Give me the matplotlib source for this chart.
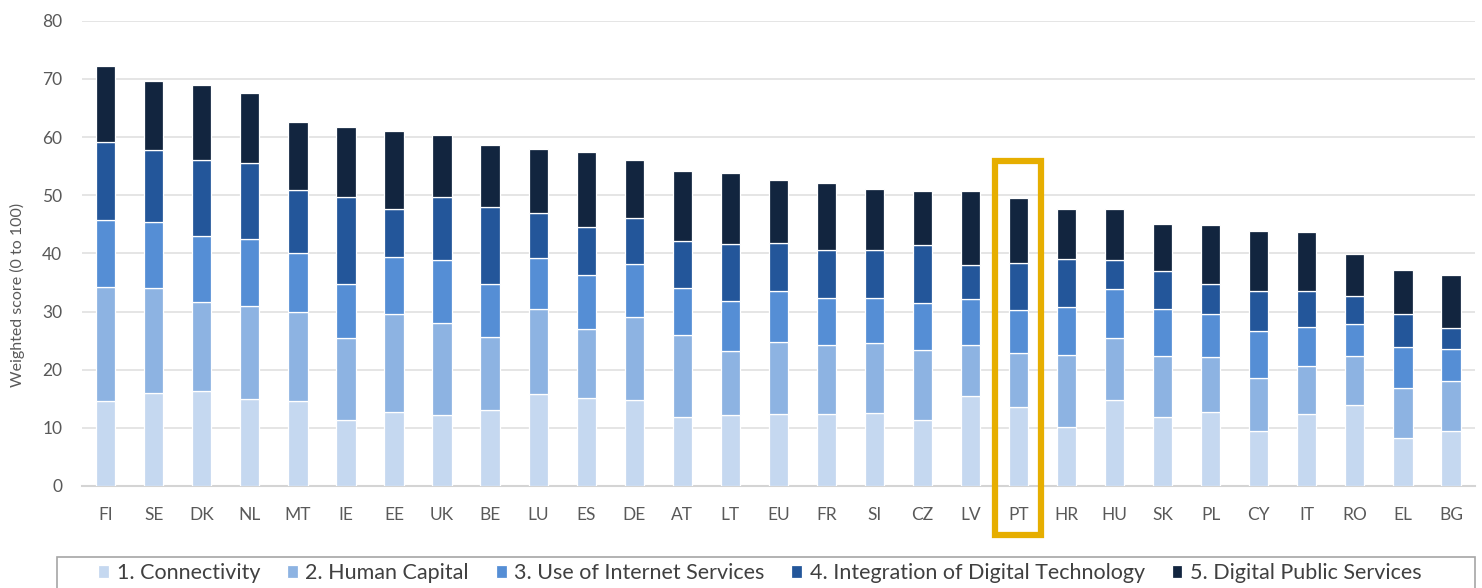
import matplotlib.pyplot as plt
from matplotlib.patches import Rectangle
import numpy as np

plt.rcParams['font.family'] = ['Lato', 'DejaVu Sans']

countries = ['FI', 'SE', 'DK', 'NL', 'MT', 'IE', 'EE', 'UK', 'BE', 'LU', 'ES', 'DE', 'AT', 'LT', 'EU',
             'FR', 'SI', 'CZ', 'LV', 'PT', 'HR', 'HU', 'SK', 'PL', 'CY', 'IT', 'RO', 'EL', 'BG']

connectivity = [14.7, 16.0, 16.4, 15.0, 14.6, 11.3, 12.8, 12.2, 13.0, 15.9, 15.2, 14.8, 11.9, 12.2, 12.4,
                12.4, 12.5, 11.3, 15.4, 13.5, 10.2, 14.8, 11.8, 12.8, 9.5, 12.4, 14.0, 8.2, 9.5]
human_capital = [19.6, 18.0, 15.2, 16.0, 15.4, 14.2, 16.7, 15.8, 12.6, 14.5, 11.8, 14.2, 14.1, 11.0, 12.4,
                 11.9, 12.1, 12.1, 8.8, 9.4, 12.3, 10.6, 10.5, 9.4, 9.0, 8.2, 8.3, 8.7, 8.6]
internet_use = [11.5, 11.4, 11.4, 11.4, 10.0, 9.3, 9.9, 10.9, 9.2, 8.8, 9.2, 9.2, 8.1, 8.6, 8.7,
                8.0, 7.7, 8.1, 8.0, 7.3, 8.3, 8.4, 8.1, 7.4, 8.2, 6.8, 5.5, 7.0, 5.4]
integration = [13.4, 12.3, 13.0, 13.1, 10.9, 14.9, 8.2, 10.8, 13.1, 7.7, 8.3, 7.9, 8.1, 9.8, 8.3,
               8.3, 8.3, 9.9, 5.8, 8.1, 8.3, 5.1, 6.5, 5.1, 6.8, 6.2, 4.9, 5.7, 3.6]
public_services = [13.0, 12.0, 13.0, 12.1, 11.7, 12.0, 13.4, 10.7, 10.7, 11.0, 13.0, 9.9, 12.0, 12.2, 10.8,
                   11.5, 10.5, 9.3, 12.7, 11.2, 8.5, 8.7, 8.2, 10.1, 10.3, 10.0, 7.2, 7.6, 9.2]

series = [connectivity, human_capital, internet_use, integration, public_services]
labels = ['1. Connectivity', '2. Human Capital', '3. Use of Internet Services',
          '4. Integration of Digital Technology', '5. Digital Public Services']
colors = ['#C5D8F0', '#8DB3E2', '#558ED5', '#23569A', '#12253F']
highlight = 'PT'

fig = plt.figure(figsize=(14.82, 5.88), dpi=100)
ax = fig.add_axes([81.7 / 1482, 1 - 486 / 588, (1475 - 81.7) / 1482, (486 - 20.7) / 588])

x = np.arange(len(countries))
bottom = np.zeros(len(countries))
for vals, lab, col in zip(series, labels, colors):
    ax.bar(x, vals, width=0.4, bottom=bottom, color=col, edgecolor='white', linewidth=0.9,
           label=lab, zorder=3)
    bottom += np.array(vals)

ax.set_xlim(-0.5, 28.5)
ax.set_ylim(0, 80)
ax.set_yticks(range(0, 81, 10))
ax.set_xticks(x)
ax.set_xticklabels(countries)
ax.grid(axis='y', color='#E3E3E3', linewidth=1.3, zorder=0)
for s in ['top', 'right', 'left']:
    ax.spines[s].set_visible(False)
ax.spines['bottom'].set_color('#D4D4D4')
ax.spines['bottom'].set_linewidth(1.5)
ax.tick_params(axis='both', length=0, labelsize=12.5, labelcolor='#595959')
ax.tick_params(axis='y', pad=14)
ax.tick_params(axis='x', pad=15)

fig.text(17 / 1482, 1 - 295 / 588, 'Weighted score (0 to 100)', rotation=90,
         ha='center', va='center', fontsize=11.5, color='#595959')

# highlight box around PT
i = countries.index(highlight)
ax.add_patch(Rectangle((i - 0.5, -8.4), 0.96, 64.2, fill=False, edgecolor='#E6AE00',
                       linewidth=4.5, clip_on=False, zorder=5))

# legend frame drawn separately, runs off the bottom edge
fig.patches.append(Rectangle((57 / 1482, -0.05), (1475 - 57) / 1482, 0.05 + 31 / 588,
                             transform=fig.transFigure, fill=False, edgecolor='#A6A6A6',
                             linewidth=1.2))
leg = fig.legend(loc='center', bbox_to_anchor=(760 / 1482, 1 - 573 / 588), ncol=5,
                 frameon=False, fontsize=15.5, handlelength=0.5, handleheight=0.6,
                 handletextpad=0.35, columnspacing=1.25, labelcolor='#404040')

fig.savefig('out.png', dpi=100)
